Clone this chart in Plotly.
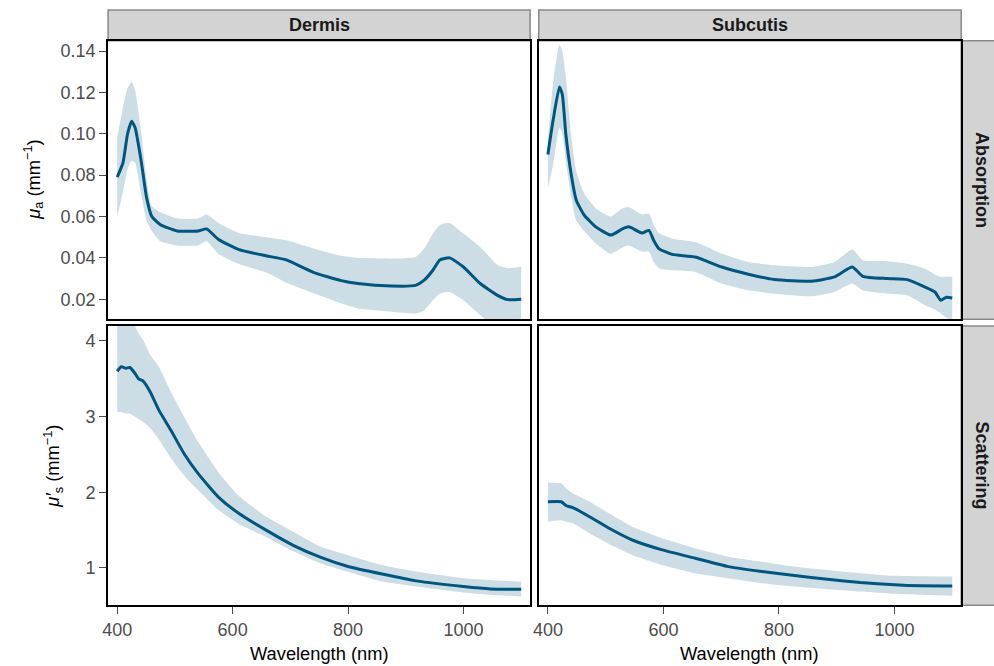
import plotly.graph_objects as go

W, H = 994, 666

# ---------------- data ----------------
panels = ["Dermis", "Subcutis"]
rows = ["Absorption", "Scattering"]

# Dermis – absorption
dA_wl = [400, 410, 418, 425, 431, 442, 451, 460, 475, 504, 540, 555, 575, 611, 658, 693, 740, 788,
         817, 876, 917, 932, 947, 959, 976, 1000, 1029, 1059, 1077, 1100]
dA_mean = [0.079, 0.086, 0.100, 0.106, 0.103, 0.086, 0.069, 0.060, 0.056, 0.053, 0.053, 0.054, 0.049,
           0.044, 0.041, 0.039, 0.033, 0.029, 0.0276, 0.0264, 0.0267, 0.0292, 0.034, 0.039, 0.040,
           0.0356, 0.0276, 0.0219, 0.0198, 0.020]
dA_lo = [0.060, 0.072, 0.083, 0.087, 0.086, 0.070, 0.058, 0.053, 0.048, 0.046, 0.046, 0.048, 0.042,
         0.037, 0.033, 0.028, 0.023, 0.018, 0.0155, 0.0139, 0.0131, 0.0147, 0.0195, 0.0227, 0.0235,
         0.0195, 0.0123, 0.006, 0.004, 0.003]
dA_hi = [0.098, 0.113, 0.122, 0.125, 0.121, 0.100, 0.078, 0.065, 0.062, 0.059, 0.059, 0.061, 0.057,
         0.052, 0.050, 0.0485, 0.0445, 0.041, 0.040, 0.0396, 0.0404, 0.0445, 0.0517, 0.0558, 0.0569,
         0.0517, 0.0453, 0.0365, 0.035, 0.0357]

# Subcutis – absorption
sA_wl = [400, 409, 420, 425, 431, 440, 449, 463, 483, 509, 529, 540, 563, 575, 583, 592, 615, 655, 701,
         747, 792, 856, 896, 927, 945, 987, 1022, 1053, 1070, 1080, 1090, 1100]
sA_mean = [0.090, 0.1065, 0.1226, 0.119, 0.100, 0.081, 0.068, 0.0606, 0.055, 0.051, 0.054, 0.055, 0.052,
           0.0533, 0.0485, 0.0445, 0.0417, 0.0404, 0.0356, 0.0321, 0.0295, 0.0287, 0.0308, 0.0356,
           0.0311, 0.030, 0.0295, 0.0259, 0.0235, 0.0195, 0.021, 0.0206]
sA_lo = [0.0735, 0.085, 0.103, 0.100, 0.087, 0.070, 0.058, 0.053, 0.047, 0.042, 0.045, 0.046, 0.043,
         0.043, 0.038, 0.035, 0.034, 0.0332, 0.0276, 0.0243, 0.0227, 0.0214, 0.0235, 0.0276, 0.0243,
         0.0227, 0.0219, 0.0171, 0.015, 0.0131, 0.011, 0.009]
sA_hi = [0.097, 0.125, 0.143, 0.140, 0.128, 0.100, 0.082, 0.071, 0.064, 0.060, 0.064, 0.0646, 0.061,
         0.0614, 0.056, 0.052, 0.0493, 0.0477, 0.0421, 0.038, 0.0364, 0.0356, 0.038, 0.044, 0.0388,
         0.0384, 0.0372, 0.0348, 0.032, 0.0308, 0.031, 0.0308]

# Dermis – reduced scattering
dS_wl = [400, 407, 415, 422, 431, 437, 445, 457, 472, 493, 516, 540, 575, 611, 658, 705, 753, 800,
         859, 918, 1000, 1047, 1100]
dS_mean = [3.60, 3.66, 3.64, 3.65, 3.57, 3.50, 3.47, 3.33, 3.09, 2.82, 2.51, 2.25, 1.94, 1.72, 1.50,
           1.30, 1.14, 1.02, 0.92, 0.83, 0.755, 0.724, 0.72]
dS_lo = [3.06, 3.06, 3.04, 3.04, 3.00, 2.97, 2.93, 2.85, 2.70, 2.45, 2.22, 2.03, 1.77, 1.58, 1.41,
         1.22, 1.06, 0.95, 0.82, 0.755, 0.676, 0.645, 0.623]
dS_hi = [4.45, 4.45, 4.42, 4.38, 4.20, 4.10, 4.01, 3.82, 3.66, 3.33, 3.00, 2.67, 2.27, 1.95, 1.68,
         1.48, 1.28, 1.17, 1.04, 0.953, 0.865, 0.84, 0.82]

# Subcutis – reduced scattering
sS_wl = [400, 423, 432, 443, 472, 506, 546, 598, 655, 712, 770, 827, 884, 941, 1000, 1045, 1100]
sS_mean = [1.876, 1.876, 1.823, 1.797, 1.678, 1.525, 1.37, 1.239, 1.129, 1.018, 0.953, 0.90, 0.852,
           0.807, 0.777, 0.764, 0.763]
sS_lo = [1.612, 1.63, 1.61, 1.59, 1.459, 1.318, 1.173, 1.04, 0.931, 0.865, 0.80, 0.755, 0.72, 0.689,
         0.658, 0.645, 0.632]
sS_hi = [2.127, 2.12, 2.05, 1.987, 1.876, 1.723, 1.546, 1.393, 1.261, 1.15, 1.084, 1.018, 0.975,
         0.932, 0.896, 0.89, 0.887]

abs_ticks = [0.02, 0.04, 0.06, 0.08, 0.10, 0.12, 0.14]
sca_ticks = [1, 2, 3, 4]
wl_ticks = [400, 600, 800, 1000]

# ---------------- styling / geometry ----------------
LINE = "#00567F"
BAND = "rgba(0,86,127,0.2)"
FONT = "Liberation Sans, Arial, Helvetica, sans-serif"
TICKC = "#4D4D4D"
SMOOTH = 0.5


def px(x):
    return x / W


def py(y):
    return 1 - y / H


colx = [(102.7, 527.3), (536, 961)]
rowy = [(40.7, 319.3), (326, 605.3)]
xr = [[384.2, 1115.5], [384.2, 1115.5]]
yr = [[0.0103, 0.145], [0.507, 4.198]]

data = {
    (0, 0): (dA_wl, dA_mean, dA_lo, dA_hi),
    (0, 1): (sA_wl, sA_mean, sA_lo, sA_hi),
    (1, 0): (dS_wl, dS_mean, dS_lo, dS_hi),
    (1, 1): (sS_wl, sS_mean, sS_lo, sS_hi),
}

fig = go.Figure()
layout = dict(
    width=W, height=H, margin=dict(l=0, r=0, t=0, b=0, pad=0),
    paper_bgcolor="white", plot_bgcolor="white", showlegend=False,
    font=dict(family=FONT, size=18, color=TICKC),
)

shapes = []
annotations = []
idx = 0
for r in range(2):
    for c in range(2):
        idx += 1
        xa = "x" if idx == 1 else f"x{idx}"
        ya = "y" if idx == 1 else f"y{idx}"
        wl, mean, lo, hi = data[(r, c)]
        fig.add_trace(go.Scatter(x=wl, y=lo, mode="lines",
                                 line=dict(width=0, color=BAND, shape="spline", smoothing=SMOOTH),
                                 xaxis=xa, yaxis=ya, hoverinfo="skip"))
        fig.add_trace(go.Scatter(x=wl, y=hi, mode="lines",
                                 line=dict(width=0, color=BAND, shape="spline", smoothing=SMOOTH),
                                 fill="tonexty", fillcolor=BAND, xaxis=xa, yaxis=ya, hoverinfo="skip"))
        fig.add_trace(go.Scatter(x=wl, y=mean, mode="lines",
                                 line=dict(width=3, color=LINE, shape="spline", smoothing=SMOOTH),
                                 xaxis=xa, yaxis=ya))
        xkey = "xaxis" if idx == 1 else f"xaxis{idx}"
        ykey = "yaxis" if idx == 1 else f"yaxis{idx}"
        bottom = r == 1
        left = c == 0
        layout[xkey] = dict(
            domain=[px(colx[c][0]), px(colx[c][1])], anchor=ya, range=xr[c],
            showgrid=False, zeroline=False, showline=True, mirror=True,
            linecolor="black", linewidth=2,
            tickvals=wl_ticks if bottom else [], ticks="outside" if bottom else "",
            ticklen=7, tickwidth=1.2, tickcolor=TICKC,
            showticklabels=bottom, tickfont=dict(size=18, color=TICKC),
        )
        layout[ykey] = dict(
            domain=[py(rowy[r][1]), py(rowy[r][0])], anchor=xa, range=yr[r],
            showgrid=False, zeroline=False, showline=True, mirror=True,
            linecolor="black", linewidth=2,
            tickvals=(abs_ticks if r == 0 else sca_ticks) if left else [],
            ticktext=([f"{v:.2f}" for v in abs_ticks] if r == 0 else [str(v) for v in sca_ticks]) if left else None,
            ticks="outside" if left else "", ticklen=7, tickwidth=1.2, tickcolor=TICKC,
            showticklabels=left, tickfont=dict(size=18, color=TICKC),
        )

# strips (top)
for c in range(2):
    shapes.append(dict(type="rect", xref="paper", yref="paper",
                       x0=px(colx[c][0]), x1=px(colx[c][1]), y0=py(40.7), y1=py(10),
                       fillcolor="#D3D3D3", line=dict(color="#8A8A8A", width=1.5), layer="below"))
    annotations.append(dict(text=f"<b>{panels[c]}</b>", xref="paper", yref="paper",
                            x=px((colx[c][0] + colx[c][1]) / 2), y=py(25), showarrow=False,
                            xanchor="center", yanchor="middle",
                            font=dict(family=FONT, size=18, color="#1A1A1A")))
# strips (right)
for r in range(2):
    shapes.append(dict(type="rect", xref="paper", yref="paper",
                       x0=px(961), x1=px(1010), y0=py(rowy[r][1]), y1=py(rowy[r][0]),
                       fillcolor="#D3D3D3", line=dict(color="#8A8A8A", width=1.5), layer="below"))
    annotations.append(dict(text=f"<b>{rows[r]}</b>", xref="paper", yref="paper",
                            x=px(982), y=py((rowy[r][0] + rowy[r][1]) / 2), showarrow=False,
                            textangle=90, xanchor="center", yanchor="middle",
                            font=dict(family=FONT, size=18, color="#1A1A1A")))

# axis titles
for c in range(2):
    annotations.append(dict(text="Wavelength (nm)", xref="paper", yref="paper",
                            x=px((colx[c][0] + colx[c][1]) / 2), y=py(653), showarrow=False,
                            xanchor="center", yanchor="middle",
                            font=dict(family=FONT, size=18.3, color="black")))
annotations.append(dict(text="<i>μ</i><sub>a</sub> (mm<sup>−1</sup>)", xref="paper", yref="paper",
                        x=px(27), y=py(180), showarrow=False, textangle=-90,
                        xanchor="center", yanchor="middle",
                        font=dict(family=FONT, size=18.3, color="black")))
annotations.append(dict(text="<i>μ′</i><sub>s</sub> (mm<sup>−1</sup>)", xref="paper", yref="paper",
                        x=px(47), y=py(466), showarrow=False, textangle=-90,
                        xanchor="center", yanchor="middle",
                        font=dict(family=FONT, size=18.3, color="black")))

layout["shapes"] = shapes
layout["annotations"] = annotations
fig.update_layout(**layout)
fig.write_html("out.html", config={"displayModeBar": False},
               post_script="document.body.style.margin='0';document.body.style.overflow='hidden';")
